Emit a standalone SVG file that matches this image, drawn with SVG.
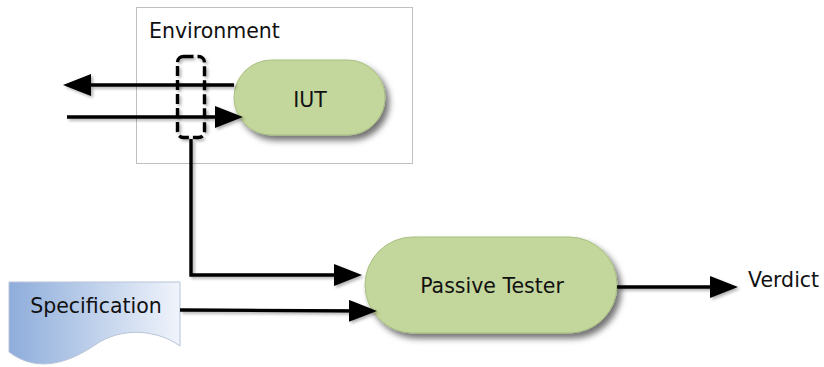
<svg xmlns="http://www.w3.org/2000/svg" width="824" height="367" viewBox="0 0 824 367">
<style>
  .lbl { font-family: "DejaVu Sans", Verdana, sans-serif; font-size: 20.5px; fill: #111; }
  .pill { fill: #c3d69b; stroke: #a9bf82; stroke-width: 1; filter: url(#shadow); }
  .conn { fill: none; stroke: #000; stroke-width: 3.4; marker-end: url(#arrow); }
</style>
<defs>
  <filter id="shadow" x="-20%" y="-20%" width="150%" height="160%">
    <feDropShadow dx="4" dy="5" stdDeviation="3" flood-color="#000" flood-opacity="0.55"/>
  </filter>
  <filter id="lshadow" filterUnits="userSpaceOnUse" x="0" y="0" width="824" height="367">
    <feDropShadow dx="2" dy="2" stdDeviation="1.5" flood-color="#000" flood-opacity="0.3"/>
  </filter>
  <marker id="arrow" markerUnits="userSpaceOnUse" markerWidth="28" markerHeight="22" refX="20" refY="11" orient="auto">
    <path d="M0,0 L28,11 L0,22 Z" fill="#000"/>
  </marker>
  <linearGradient id="specGrad" x1="0" y1="0" x2="1" y2="0">
    <stop offset="0" stop-color="#8eaddb"/>
    <stop offset="1" stop-color="#f0f4fb"/>
  </linearGradient>
</defs>

<g id="environment">
  <rect x="136.5" y="7.5" width="276" height="156" fill="#fff" stroke="#bfbfbf" stroke-width="1"/>
  <text class="lbl" x="149" y="38">Environment</text>
</g>

<g id="iut">
  <rect class="pill" x="234" y="60" width="151" height="75" rx="37.5" ry="37.5"/>
  <text class="lbl" x="310" y="107" text-anchor="middle">IUT</text>
</g>

<g id="probe">
  <rect x="177.5" y="56.5" width="27" height="81" rx="6" ry="6" fill="none" stroke="#000" stroke-width="3.4" stroke-dasharray="10 4" filter="url(#lshadow)"/>
</g>

<g id="specification">
  <path d="M9,282 H180 V346 C158,330 122,326 95,345 C70,362 38,374 9,352 Z" fill="url(#specGrad)" stroke="#b7c4d8" stroke-width="1"/>
  <text class="lbl" x="96" y="313" text-anchor="middle">Specification</text>
</g>

<g id="passive-tester">
  <rect class="pill" x="365" y="237" width="252" height="96" rx="48" ry="48"/>
  <text class="lbl" x="492" y="293" text-anchor="middle">Passive Tester</text>
</g>

<g id="verdict">
  <text class="lbl" x="748" y="287">Verdict</text>
</g>

<g id="connectors" filter="url(#lshadow)">
  <path class="conn" d="M234,85 H71"/>
  <path class="conn" d="M67,117 H235"/>
  <path class="conn" d="M191,139 V275 H354"/>
  <path class="conn" d="M180,310 L369,311"/>
  <path class="conn" d="M617,287 H730" stroke-width="2.7"/>
</g>
</svg>
